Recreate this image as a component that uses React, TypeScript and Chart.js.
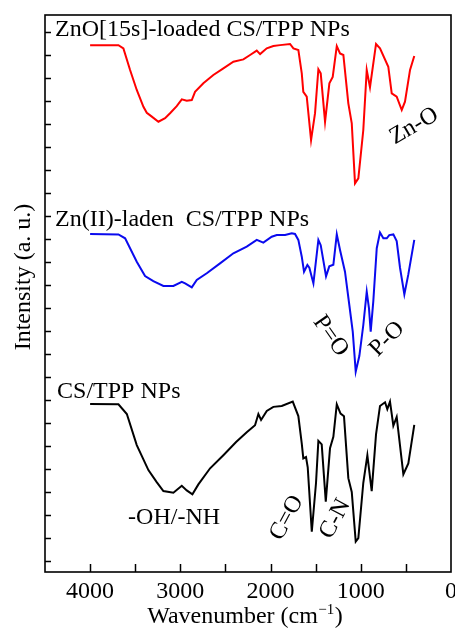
import React, { useEffect, useRef } from "react";
import { Chart, registerables } from "chart.js";

Chart.register(...registerables);

// ---- Data (wavenumber in cm-1, intensity in arbitrary units, curves offset) ----
const wnRed = [4000, 3686, 3631, 3557, 3483, 3409, 3372, 3316, 3243, 3169, 3114, 3040, 2984, 2929, 2873, 2837, 2745, 2634, 2523, 2412, 2301, 2227, 2153, 2116, 2042, 1969, 1895, 1784, 1747, 1692, 1654, 1637, 1599, 1551, 1507, 1470, 1444, 1396, 1348, 1311, 1266, 1230, 1193, 1138, 1100, 1064, 1027, 972, 934, 898, 831, 787, 695, 657, 602, 546, 510, 454, 407];
const intRed = [22.43, 22.43, 22.29, 21.35, 20.48, 19.75, 19.49, 19.32, 19.1, 19.25, 19.47, 19.78, 20.07, 20.01, 20.04, 20.4, 20.77, 21.13, 21.42, 21.71, 21.81, 22.0, 22.19, 22.04, 22.29, 22.39, 22.43, 22.48, 22.29, 22.22, 21.2, 20.4, 20.19, 18.3, 19.47, 21.38, 21.2, 19.1, 20.77, 21.05, 22.39, 22.07, 22.0, 19.9, 19.03, 16.42, 16.64, 18.74, 21.35, 20.6, 22.48, 22.29, 21.49, 20.33, 20.19, 19.61, 19.97, 21.35, 21.96];

const wnBlue = [4000, 3686, 3612, 3483, 3391, 3299, 3188, 3077, 2984, 2947, 2873, 2818, 2707, 2560, 2412, 2264, 2153, 2080, 1987, 1931, 1839, 1765, 1729, 1692, 1654, 1629, 1592, 1570, 1525, 1470, 1444, 1385, 1349, 1304, 1266, 1230, 1175, 1127, 1089, 1056, 1016, 972, 934, 909, 890, 861, 823, 787, 750, 712, 684, 639, 602, 565, 517, 473, 407];
const intBlue = [14.22, 14.2, 14.03, 13.01, 12.39, 12.17, 11.96, 11.96, 12.14, 12.07, 11.9, 12.22, 12.51, 12.94, 13.38, 13.67, 13.96, 13.84, 14.1, 14.17, 14.17, 14.25, 14.22, 13.96, 13.23, 12.58, 12.87, 12.75, 12.07, 13.96, 13.73, 12.38, 12.81, 12.88, 14.2, 13.52, 12.58, 11.13, 9.97, 8.23, 8.91, 10.26, 11.71, 10.98, 9.97, 11.3, 13.6, 14.28, 14.03, 14.03, 14.17, 14.2, 13.91, 12.75, 11.59, 12.46, 13.96];

const wnBlack = [4000, 3686, 3593, 3483, 3354, 3262, 3188, 3077, 2984, 2929, 2866, 2800, 2670, 2523, 2382, 2264, 2172, 2135, 2105, 2042, 1969, 1876, 1754, 1692, 1654, 1637, 1607, 1588, 1543, 1496, 1470, 1433, 1388, 1341, 1304, 1266, 1224, 1186, 1138, 1100, 1056, 1027, 972, 927, 879, 831, 787, 731, 706, 676, 639, 602, 528, 473, 407];
const intBlack = [6.83, 6.81, 6.39, 5.04, 3.95, 3.43, 3.04, 2.97, 3.27, 3.07, 2.9, 3.33, 4.03, 4.6, 5.17, 5.6, 5.9, 6.39, 6.13, 6.52, 6.7, 6.74, 6.93, 6.3, 5.1, 4.46, 4.52, 4.07, 1.27, 3.4, 5.22, 5.07, 2.58, 4.9, 5.4, 6.81, 6.41, 6.29, 3.6, 3.0, 0.84, 0.99, 3.4, 4.6, 3.04, 5.5, 6.74, 6.9, 6.6, 6.93, 5.88, 6.26, 3.77, 4.24, 5.92];

const seriesNames = ["ZnO[15s]-loaded CS/TPP NPs", "Zn(II)-laden  CS/TPP NPs", "CS/TPP NPs"];

// ---- Axes ----
const xMin = 0;
const xMax = 4500;
const yMin = -0.48;
const yMax = 23.74;
const xMajorTicks = [4000, 3000, 2000, 1000, 0];
const xMajorLabels = ["4000", "3000", "2000", "1000", "0"];
const xMinorTicks = [3500, 2500, 1500, 500];
const yTickValues = Array.from({ length: 24 }, (_, i) => i);
const xTitleMain = "Wavenumber (cm";
const xTitleSup = "\u22121";
const yTitle = "Intensity (a. u.)";

// ---- Annotations: text at data coordinates (wavenumber, intensity) ----
const annoText = [seriesNames[0], seriesNames[1], seriesNames[2], "-OH/-NH", "Zn-O", "P=O", "P-O", "C=O", "C-N"];
const annoWn = [4388, 4388, 4366, 3579, 410, 1335, 709, 1821, 1285];
const annoInt = [22.83, 14.57, 7.09, 1.61, 18.91, 9.78, 9.65, 1.87, 1.83];
const annoAngle = [0, 0, 0, 0, -30, 55, -45, -62, -62];
const annoAlign = ["left", "left", "left", "left", "center", "center", "center", "center", "center"];

const FONT = '"Liberation Serif", "Times New Roman", serif';
const FS = 24;

const decorPlugin = {
  id: "decor",
  afterDraw(chart: any) {
    const { ctx, chartArea: a, scales } = chart;
    const xs = scales.x;
    const ys = scales.y;
    ctx.save();
    ctx.strokeStyle = "#000";
    ctx.fillStyle = "#000";
    ctx.lineWidth = 1.6;
    ctx.strokeRect(a.left, a.top, a.right - a.left, a.bottom - a.top);

    // x ticks (inward)
    ctx.lineWidth = 1.5;
    [...xMajorTicks, ...xMinorTicks].forEach((v) => {
      if (v <= xMin || v >= xMax) return;
      const px = Math.round(xs.getPixelForValue(v)) + 0.5;
      ctx.beginPath();
      ctx.moveTo(px, a.bottom);
      ctx.lineTo(px, a.bottom - 8);
      ctx.stroke();
    });
    // y ticks (inward)
    yTickValues.forEach((v) => {
      const py = Math.round(ys.getPixelForValue(v)) + 0.5;
      ctx.beginPath();
      ctx.moveTo(a.left, py);
      ctx.lineTo(a.left + 6, py);
      ctx.stroke();
    });

    // x tick labels
    ctx.font = `${FS}px ${FONT}`;
    ctx.textAlign = "center";
    ctx.textBaseline = "alphabetic";
    xMajorTicks.forEach((v, i) => {
      ctx.fillText(xMajorLabels[i], xs.getPixelForValue(v), a.bottom + 26);
    });

    // x title with superscript
    const cx = (a.left + a.right) / 2 - 3;
    const by = a.bottom + 51;
    ctx.font = `${FS}px ${FONT}`;
    const w1 = ctx.measureText(xTitleMain).width;
    const w3 = ctx.measureText(")").width;
    ctx.font = `15px ${FONT}`;
    const w2 = ctx.measureText(xTitleSup).width;
    let sx = cx - (w1 + w2 + w3 + 1) / 2;
    ctx.textAlign = "left";
    ctx.font = `${FS}px ${FONT}`;
    ctx.fillText(xTitleMain, sx, by);
    sx += w1 + 0.5;
    ctx.font = `15px ${FONT}`;
    ctx.fillText(xTitleSup, sx, by - 9);
    sx += w2 + 0.5;
    ctx.font = `${FS}px ${FONT}`;
    ctx.fillText(")", sx, by);

    // y title
    ctx.save();
    ctx.translate(30, 277);
    ctx.rotate(-Math.PI / 2);
    ctx.textAlign = "center";
    ctx.textBaseline = "alphabetic";
    ctx.font = `${FS}px ${FONT}`;
    ctx.fillText(yTitle, 0, 0);
    ctx.restore();

    // annotations
    annoText.forEach((t, i) => {
      const px = xs.getPixelForValue(annoWn[i]);
      const py = ys.getPixelForValue(annoInt[i]);
      ctx.save();
      ctx.translate(px, py);
      ctx.rotate((annoAngle[i] * Math.PI) / 180);
      ctx.font = `${FS}px ${FONT}`;
      ctx.textAlign = annoAlign[i] as CanvasTextAlign;
      ctx.textBaseline = annoAlign[i] === "left" ? "alphabetic" : "middle";
      ctx.fillText(t, 0, 0);
      ctx.restore();
    });
    ctx.restore();
  },
};

function toPoints(wn: number[], vals: number[]) {
  return wn.map((w, i) => ({ x: w, y: vals[i] }));
}

export default function App() {
  const ref = useRef<HTMLCanvasElement | null>(null);
  useEffect(() => {
    if (!ref.current) return;
    const chart = new Chart(ref.current, {
      type: "line",
      data: {
        datasets: [
          { label: seriesNames[0], data: toPoints(wnRed, intRed), borderColor: "#ff0000", borderWidth: 2, pointRadius: 0, tension: 0, fill: false },
          { label: seriesNames[1], data: toPoints(wnBlue, intBlue), borderColor: "#0a0aee", borderWidth: 2, pointRadius: 0, tension: 0, fill: false },
          { label: seriesNames[2], data: toPoints(wnBlack, intBlack), borderColor: "#000000", borderWidth: 2, pointRadius: 0, tension: 0, fill: false },
        ],
      },
      options: {
        animation: false,
        responsive: false,
        maintainAspectRatio: false,
        devicePixelRatio: 1,
        layout: { padding: { left: 45, top: 15, right: 4, bottom: 56 } },
        plugins: { legend: { display: false }, tooltip: { enabled: false } },
        scales: {
          x: { type: "linear", reverse: true, min: xMin, max: xMax, display: false },
          y: { type: "linear", min: yMin, max: yMax, display: false },
        },
      },
      plugins: [decorPlugin],
    });
    return () => chart.destroy();
  }, []);
  return (
    <div style={{ position: "absolute", left: 0, top: 0, width: 455, height: 628, background: "#fff" }}>
      <canvas ref={ref} width={455} height={628} />
    </div>
  );
}
